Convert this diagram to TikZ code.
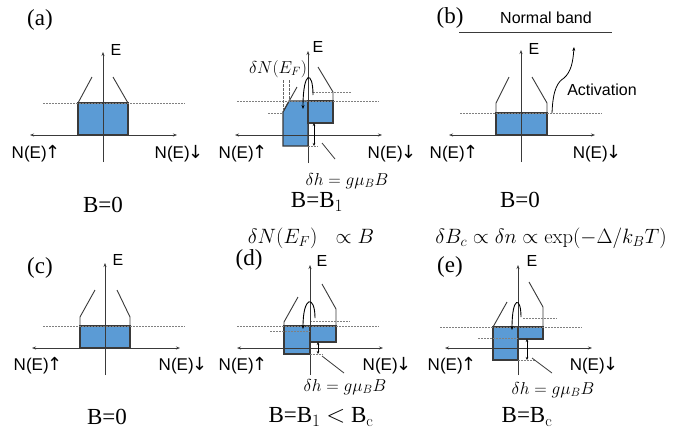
\documentclass[tikz,border=0pt]{standalone}
\usepackage{fontspec}
\newfontfamily\sansf{Liberation Sans}
\newfontfamily\serf{Liberation Serif}
\newfontfamily\arrf{DejaVu Sans}
\usetikzlibrary{arrows.meta}
\definecolor{bandblue}{HTML}{5B9BD5}
\definecolor{linegray}{HTML}{3A3A3A}
\newcommand{\upar}{{\arrf\fontsize{18}{20}\selectfont\kern-1.5pt↑}}
\newcommand{\dnar}{{\arrf\fontsize{18}{20}\selectfont\kern-1.5pt↓}}
\tikzset{
  axis/.style={draw=linegray, line width=0.8pt, -{Stealth[length=4pt,width=3pt]}},
  axisb/.style={draw=linegray, line width=0.8pt, {Stealth[length=4pt,width=3pt]}-{Stealth[length=4pt,width=3pt]}},
  band/.style={fill=bandblue, draw=linegray, line width=1.1pt},
  dos/.style={draw=linegray, line width=0.9pt},
  fermi/.style={draw=black!50, line width=0.5pt, dash pattern=on 2pt off 1pt},
  vdash/.style={draw=black!60, line width=0.6pt, dash pattern=on 2.5pt off 1.5pt},
  hop/.style={draw=black, line width=0.9pt, -{Stealth[length=4pt,width=3pt]}},
  dh/.style={draw=black, line width=0.8pt, {Stealth[length=3pt,width=2.5pt]}-{Stealth[length=3pt,width=2.5pt]}},
  ptr/.style={draw=linegray, line width=0.8pt},
  sans/.style={font=\sansf\fontsize{17}{20}\selectfont, inner sep=0pt},
  sanss/.style={font=\sansf\fontsize{16}{19}\selectfont, inner sep=0pt},
  serif/.style={font=\serf\fontsize{23}{27}\selectfont, inner sep=0pt},
  mathl/.style={font=\fontsize{20.5}{24}\selectfont, inner sep=0pt},
  maths/.style={font=\fontsize{17.5}{21}\selectfont, inner sep=0pt},
}
\begin{document}
\begin{tikzpicture}[x=1pt,y=-1pt]
\useasboundingbox[fill=white] (0,0) rectangle (695,432);

% ================= panel (a) =================
\node[serif] (la) at (40,20) {(a)};
\draw[band] (78,103) rectangle (128,135);
\draw[dos] (78,103) -- (92,77);
\draw[dos] (128,103) -- (113,77);
\draw[fermi] (43,103) -- (185,103);
\draw[axisb] (30,135) -- (177,135);
\draw[axis] (103,162) -- (103,52);
\node[sanss] (ea) at (116,50) {E};
\node[sans] (nua) at (36,154) {N(E)\upar};
\node[sans] (nda) at (179,154) {N(E)\dnar};
\node[serif] (ba) at (103,205) {B=0};

% ================= panel B=B1 =================
\draw[band] (283,146) -- (283,112) -- (289,101) -- (308,101) -- (308,146) -- cycle;
\draw[band] (308,101) rectangle (333,123);
\draw[dos] (283,112) -- (297,87);
\draw[dos] (333,101) -- (333,92) -- (318,67);
\draw[fermi] (237,101) -- (379,101);
\draw[fermi] (313,92) -- (352,92);
\draw[fermi] (268,113) -- (283,113);
\draw[vdash] (283,80) -- (283,112);
\draw[vdash] (289,80) -- (289,101);
\draw[axisb] (235,135) -- (382,135);
\draw[axis] (308,163) -- (308,51);
\draw[hop] (313,95) .. controls (313,70) and (303,70) .. (303,109);
\draw[dh] (314,123) -- (314,146);
\draw[fermi] (308,146) -- (318,146);
\coordinate (p1a) at (335,159);
\coordinate (p1b) at (322,143);
\draw[ptr] (p1a) -- (p1b);
\node[sanss] (eb1) at (318,47) {E};
\node[maths] (dnb1) at (278,69) {$\delta N(E_F)$};
\node[maths] (dhb1) at (347,181) {$\delta h = g\mu_B B$};
\node[sans] (nub1) at (243,154) {N(E)\upar};
\node[sans] (ndb1) at (392,154) {N(E)\dnar};
\node[serif] (bb1) at (317,202) {B=B$_1$};

% ================= panel (b) =================
\node[serif] (lb) at (450,18) {(b)};
\node[sanss] (nb) at (546,18) {Normal band};
\draw[dos] (459,32) -- (612,32);
\draw[band] (496,113) rectangle (547,135);
\draw[dos] (496,113) -- (496,103) -- (509,77);
\draw[dos] (547,113) -- (547,103) -- (532,77);
\draw[fermi] (460,113) -- (602,113);
\draw[axisb] (449,135) -- (595,135);
\draw[axis] (521,162) -- (521,50);
\coordinate (act0) at (552,113);
\coordinate (act1) at (574,47);
\draw[hop, line width=0.8pt] (act0) .. controls (553,88) and (558,82) .. (564,78) .. controls (571,72) and (573,62) .. (act1);
\node[sanss] (acttxt) at (602,90) {Activation};
\node[sanss] (eb) at (534,49) {E};
\node[sans] (nub) at (454,154) {N(E)\upar};
\node[sans] (ndb) at (597,154) {N(E)\dnar};
\node[serif] (bb) at (520,200) {B=0};

% ================= middle formulas =================
\node[mathl] (f1) at (311,238) {$\delta N(E_F)\ \ \propto B$};
\node[mathl] (f2) at (551,238) {$\delta B_c \propto \delta n \propto \exp(-\Delta/k_B T)$};

% ================= panel (c) =================
\node[serif] (lc) at (40,268) {(c)};
\draw[band] (80,326) rectangle (130,348);
\draw[dos] (80,326) -- (80,317) -- (95,290);
\draw[dos] (130,326) -- (130,317) -- (117,290);
\draw[fermi] (43,326) -- (185,326);
\draw[axisb] (32,348) -- (180,348);
\draw[axis] (105,375) -- (105,263);
\node[sanss] (ec) at (118,260) {E};
\node[sans] (nuc) at (38,366) {N(E)\upar};
\node[sans] (ndc) at (183,366) {N(E)\dnar};
\node[serif] (bc) at (107,417) {B=0};

% ================= panel (d) =================
\node[serif] (ld) at (249,260) {(d)};
\draw[band] (284,326) rectangle (310,354);
\draw[band] (310,326) rectangle (336,342);
\draw[dos] (284,326) -- (284,322) -- (298,297);
\draw[dos] (336,326) -- (336,309) -- (322,284);
\draw[fermi] (237,326) -- (379,326);
\draw[fermi] (310,321) -- (350,321);
\draw[fermi] (270,331) -- (310,331);
\draw[axisb] (237,348) -- (383,348);
\draw[axis] (310,375) -- (310,265);
\draw[hop] (315,318) .. controls (315,295) and (303,295) .. (303,329);
\draw[dh] (318,342) -- (318,354);
\draw[fermi] (310,354) -- (323,354);
\coordinate (p2a) at (344,373);
\coordinate (p2b) at (322,356);
\draw[ptr] (p2a) -- (p2b);
\node[sanss] (ed) at (322,261) {E};
\node[maths] (dhd) at (345,387) {$\delta h = g\mu_B B$};
\node[sans] (nud) at (243,366) {N(E)\upar};
\node[sans] (ndd) at (387,366) {N(E)\dnar};
\node[serif] (bd) at (321,417) {B=B$_1$ $<$ B$_\mathrm{c}$};

% ================= panel (e) =================
\node[serif] (le) at (450,267) {(e)};
\draw[band] (493,327) rectangle (518,360);
\draw[band] (518,327) rectangle (543,339);
\draw[dos] (493,327) -- (507,302);
\draw[dos] (543,327) -- (543,307) -- (529,282);
\draw[fermi] (440,327) -- (582,327);
\draw[fermi] (523,318) -- (557,318);
\draw[fermi] (478,338) -- (518,338);
\draw[axisb] (445,348) -- (592,348);
\draw[axis] (518,375) -- (518,265);
\draw[hop] (521,317) .. controls (521,296) and (512,296) .. (512,330);
\draw[dh] (527,339) -- (527,360);
\draw[fermi] (518,360) -- (535,360);
\coordinate (p3a) at (552,373);
\coordinate (p3b) at (532,358);
\draw[ptr] (p3a) -- (p3b);
\node[sanss] (ee) at (532,261) {E};
\node[maths] (dhe) at (553,390) {$\delta h = g\mu_B B$};
\node[sans] (nue) at (452,366) {N(E)\upar};
\node[sans] (nde) at (594,366) {N(E)\dnar};
\node[serif] (be) at (527,417) {B=B$_\mathrm{c}$};
\end{tikzpicture}
\end{document}
